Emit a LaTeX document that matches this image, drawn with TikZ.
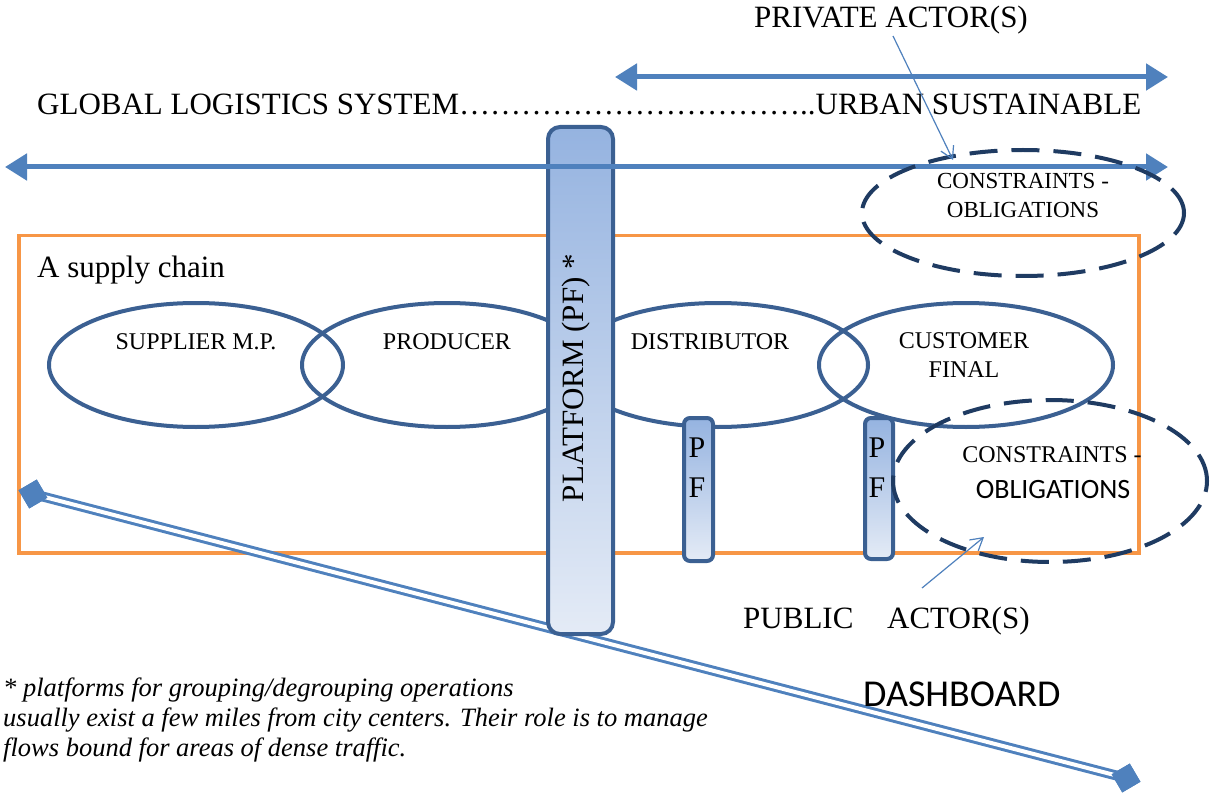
\documentclass[tikz,border=0pt]{standalone}
\usepackage{fontspec}
\setmainfont{Liberation Serif}
\newfontfamily\calib{Carlito}
\newfontfamily\noteit{Liberation Serif Italic}
\usetikzlibrary{arrows.meta,shapes.geometric}
\definecolor{arrowblue}{HTML}{4F81BD}
\definecolor{ellblue}{HTML}{3B6092}
\definecolor{navy}{HTML}{1F3B62}
\definecolor{orng}{HTML}{F79646}
\definecolor{pftop}{HTML}{95B3E0}
\definecolor{pfbot}{HTML}{E4EBF6}
\begin{document}
\begin{tikzpicture}[x=1pt,y=-1pt,
  bigtxt/.style={font=\fontsize{31}{34}\selectfont, inner sep=0pt},
  elltxt/.style={font=\fontsize{24}{29}\selectfont, align=center, inner sep=0pt},
  chainell/.style={draw=ellblue, line width=4pt, ellipse, minimum width=294, minimum height=124, inner sep=0pt},
  dashell/.style={draw=navy, line width=4pt, dash pattern=on 28pt off 14pt, ellipse, inner sep=0pt},
  pfbox/.style={draw=ellblue, line width=4pt, rounded corners=6pt, top color=pftop, bottom color=pfbot, inner sep=0pt, anchor=north west},
  bigarrow/.style={draw=arrowblue, line width=5pt, {Triangle[length=22pt,width=26pt]}-{Triangle[length=22pt,width=26pt]}},
  thinarrow/.style={draw=arrowblue, line width=1.2pt, -{Straight Barb[length=12pt,width=14pt]}},
  dashline/.style={draw=arrowblue, line width=3pt, double=white, double distance=4pt},
  dashend/.style={diamond, fill=arrowblue, minimum width=30, minimum height=30, inner sep=0pt, rotate=-14.6}
]
\useasboundingbox (0,0) rectangle (1215,794);
\fill[white] (0,0) rectangle (1215,794);

% supply chain frame
\node[draw=orng, line width=3.5pt, minimum width=1120, minimum height=317, anchor=north west, inner sep=0pt] (chain) at (17,234) {};
\node[bigtxt, anchor=base west] (chainlbl) at (37,278) {A supply chain};

% chain ellipses
\node[chainell, minimum width=294] (sup) at (196,365) {};
\node[chainell, minimum width=290] (prod) at (447,365) {};
\node[chainell, minimum width=300] (dist) at (718,365) {};
\node[chainell, minimum width=294] (cust) at (966,365) {};
\node[elltxt] (suplbl) at (196,342) {SUPPLIER M.P.};
\node[elltxt] (prodlbl) at (447,342) {PRODUCER};
\node[elltxt] (distlbl) at (710,342) {DISTRIBUTOR};
\node[elltxt, anchor=north] (custlbl) at (964,332) {CUSTOMER\\FINAL};

% dashboard line
\node[dashend] (d1) at (33,494) {};
\node[dashend] (d2) at (1126,778) {};
\draw[dashline] (d1.center) -- (d2.center);
\node[dashend] at (33,494) {};
\node[dashend] at (1126,778) {};

% platform
\node[pfbox, minimum width=65, minimum height=507, rounded corners=12pt] (pf) at (546,125) {};
\node[bigtxt, rotate=90] (pflbl) at (576,378) {PLATFORM (PF) *};

% long arrows
\coordinate (la1) at (5,167);
\coordinate (la2) at (1168,167);
\draw[bigarrow] (la1) -- (la2);
\coordinate (ua1) at (615,77);
\coordinate (ua2) at (1168,77);
\draw[bigarrow] (ua1) -- (ua2);

% small platforms
\node[pfbox, minimum width=29, minimum height=143] (pf1) at (682,416) {};
\node[pfbox, minimum width=28, minimum height=141] (pf2) at (863,416) {};
\node[font=\fontsize{30}{40}\selectfont, align=center, inner sep=0pt, anchor=north] (pf1lbl) at (697,438) {P\\F};
\node[font=\fontsize{30}{40}\selectfont, align=center, inner sep=0pt, anchor=north] (pf2lbl) at (877,438) {P\\F};

% constraint ellipses
\node[dashell, minimum width=322, minimum height=126] (con1) at (1023,213) {};
\node[elltxt, font=\fontsize{23}{29}\selectfont] (con1lbl) at (1023,195) {CONSTRAINTS -\\OBLIGATIONS};
\node[dashell, minimum width=314, minimum height=162] (con2) at (1050,481) {};
\node[elltxt, anchor=base] (con2a) at (1052,462) {CONSTRAINTS -};
\node[font=\calib\fontsize{28}{30}\selectfont, inner sep=0pt, anchor=base] (con2b) at (1053,498) {OBLIGATIONS};

% titles
\node[bigtxt, anchor=base] (priv) at (891,28) {PRIVATE ACTOR(S)};
\node[bigtxt, anchor=base west] (glob) at (37,115) {GLOBAL LOGISTICS SYSTEM……………………………..URBAN SUSTAINABLE};
\node[bigtxt, anchor=base west] (pub) at (743,628) {PUBLIC\hspace{26pt} ACTOR(S)};
\node[font=\calib\fontsize{38}{40}\selectfont, inner sep=0pt, anchor=base west] (dash) at (863,706) {DASHBOARD};

% actor arrows
\coordinate (privstart) at (893,36);
\coordinate (privtip) at (953,160);
\draw[thinarrow] (privstart) -- (privtip);
\coordinate (pubstart) at (922,588);
\coordinate (pubtip) at (984,537);
\draw[thinarrow] (pubstart) -- (pubtip);

% footnote
\node[font=\noteit\fontsize{26.5}{30}\selectfont, align=left, inner sep=0pt, anchor=north west] (note) at (3,678) {* platforms for grouping/degrouping operations\\usually exist a few miles from city centers. Their role is to manage\\flows bound for areas of dense traffic.};
\end{tikzpicture}
\end{document}
